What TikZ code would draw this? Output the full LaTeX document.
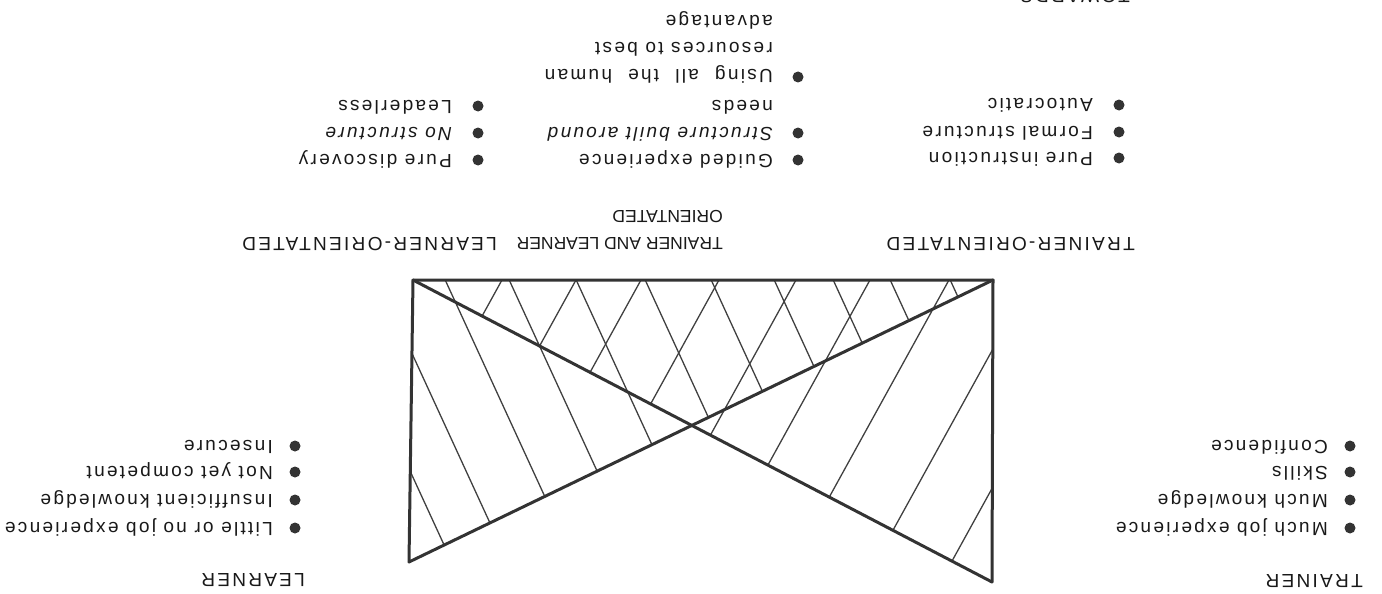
\documentclass[tikz,border=0pt]{standalone}
\usepackage{fontspec}
\setmainfont{Liberation Sans}[LetterSpace=12]
\begin{document}
\begin{tikzpicture}[x=1pt,y=-1pt]
\tikzstyle{texte} = [rotate=180,anchor=base west,inner sep=0pt,align=left,font=\fontsize{19}{27}\selectfont,text=black!90] %page retournee
\tikzstyle{serre} = [font=\fontsize{17.5}{27}\selectfont\addfontfeature{LetterSpace=0}]
\tikzstyle{trait} = [line width=3pt,color=black!80,line cap=round,line join=round]
\tikzstyle{hachure} = [line width=1.3pt,color=black!75]
\tikzstyle{puce} = [fill=black!80]
\useasboundingbox (0,0) rectangle (1382,594);
%sommets du sablier
\coordinate (TL) at (413,280);
\coordinate (TR) at (993,280);
\coordinate (BL) at (409,562);
\coordinate (BR) at (992,582);
\coordinate (X) at (intersection of TL--BR and TR--BL);
%hachures
\begin{scope}
\clip (TL)--(TR)--(X)--(BL)--cycle;
\foreach \a in {322,378,445,509,576,645,711,774,833,890,950}
  \draw[hachure] (\a-9,260)--(\a+152,610);
\end{scope}
\begin{scope}
\clip (TL)--(TR)--(BR)--(X)--cycle;
\foreach \b in {502,576,641,719,796,870,949,1031,1107}
  \draw[hachure] (\b+11,260)--(\b-182,610);
\end{scope}
%cadre et diagonales
\draw[trait] (BL)--(TL)--(TR)--(BR);
\draw[trait] (TL)--(BR);
\draw[trait] (TR)--(BL);
%formateur et apprenant
\draw(1363,574)node[texte](F){TRAINER};
\draw(305,573)node[texte](A){LEARNER};
\foreach \y in {528,500,472,446} {\fill[puce] (1350,\y) circle (5.5pt); \fill[puce] (295,\y) circle (5.5pt);}
\draw(1328,522)node[texte](F1){Much job experience};
\draw(1328,494)node[texte](F2){Much knowledge};
\draw(1328,466)node[texte](F3){Skills};
\draw(1328,440)node[texte](F4){Confidence};
\draw(273,522)node[texte](A1){Little or no job experience};
\draw(273,494)node[texte](A2){Insufficient knowledge};
\draw(273,466)node[texte](A3){Not yet competent};
\draw(273,440)node[texte](A4){Insecure};
%orientations
\draw(1135,237)node[texte](TO){TRAINER-ORIENTATED};
\draw(723,210)node[texte,serre](TLO){TRAINER AND LEARNER\\ORIENTATED};
\draw(497,237)node[texte](LO){LEARNER-ORIENTATED};
\foreach \y in {158,132,105} \fill[puce] (1119,\y) circle (5.5pt);
\foreach \y in {160,133,77} \fill[puce] (798,\y) circle (5.5pt);
\foreach \y in {160,133,106} \fill[puce] (478,\y) circle (5.5pt);
\draw(1093,152)node[texte](T1){Pure instruction};
\draw(1093,126)node[texte](T2){Formal structure};
\draw(1093,99)node[texte](T3){Autocratic};
\draw(773,154)node[texte](M1){Guided experience};
\draw(773,100)node[texte](M2){\textit{Structure built around}\\needs};
\draw(773,16)node[texte](M3){\makebox[228pt][s]{Using all the human}\\resources to best\\advantage};
\draw(452,154)node[texte](L1){Pure discovery};
\draw(452,127)node[texte](L2){\textit{No structure}};
\draw(452,100)node[texte](L3){Leaderless};
\draw(1130,-10)node[texte](V){TOWARDS};
\end{tikzpicture}
\end{document}
